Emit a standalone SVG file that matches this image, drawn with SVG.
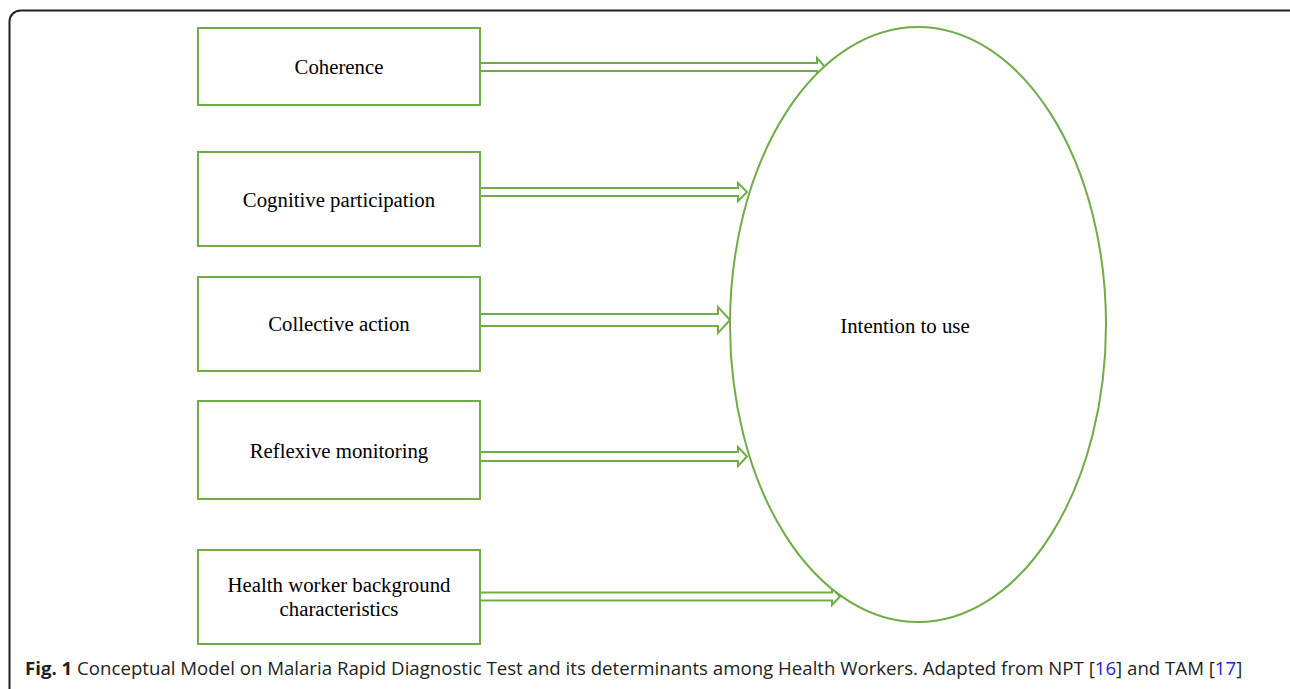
<svg xmlns="http://www.w3.org/2000/svg" width="1290" height="689" viewBox="0 0 1290 689">
<style>
.box{fill:#fff;stroke:#70AD47;stroke-width:2}
.arr{fill:#fff;stroke:#70AD47;stroke-width:2;stroke-linejoin:miter}
.lbl{font-family:"Liberation Serif","Times New Roman",serif;font-size:20.8px;fill:#000;text-anchor:middle}
.cap{font-family:"Open Sans","Noto Sans",sans-serif;font-size:18.65px;fill:#231F20}
.ref{fill:#1F1FD0}
</style>
<rect x="9.5" y="10.5" width="1292" height="690" rx="11" fill="none" stroke="#231F20" stroke-width="2"/>
<g id="connectors">
<polygon class="arr" points="480,63 817,63 817,58 825,67 817,75 817,71 480,71"/>
<polygon class="arr" points="480,188 738,188 738,183 747,192 738,201 738,196 480,196"/>
<polygon class="arr" points="480,314 718,314 718,307 730,320 718,333 718,326 480,326"/>
<polygon class="arr" points="480,452 738,452 738,447 747,456.5 738,466 738,461 480,461"/>
<polygon class="arr" points="480,592.5 832,592.5 832,588 840,596.5 832,605 832,600.5 480,600.5"/>
</g>
<g id="n-intention">
<ellipse class="box" cx="918" cy="324.5" rx="188" ry="297.5" fill="none"/>
<text class="lbl" x="905" y="333">Intention to use</text>
</g>
<g id="n-coherence">
<rect class="box" x="198" y="28" width="282" height="77"/>
<text class="lbl" x="339" y="74">Coherence</text>
</g>
<g id="n-cognitive">
<rect class="box" x="198" y="152" width="282" height="94"/>
<text class="lbl" x="339" y="207">Cognitive participation</text>
</g>
<g id="n-collective">
<rect class="box" x="198" y="277" width="282" height="94"/>
<text class="lbl" x="339" y="331">Collective action</text>
</g>
<g id="n-reflexive">
<rect class="box" x="198" y="401" width="282" height="98"/>
<text class="lbl" x="339" y="458">Reflexive monitoring</text>
</g>
<g id="n-health">
<rect class="box" x="198" y="550" width="282" height="94"/>
<text class="lbl" x="339" y="592">Health worker background</text>
<text class="lbl" x="339" y="616">characteristics</text>
</g>
<text class="cap" x="25" y="675"><tspan font-weight="bold">Fig. 1</tspan> Conceptual Model on Malaria Rapid Diagnostic Test and its determinants among Health Workers. Adapted from NPT [<tspan class="ref">16</tspan>] and TAM [<tspan class="ref">17</tspan>]</text>
</svg>
